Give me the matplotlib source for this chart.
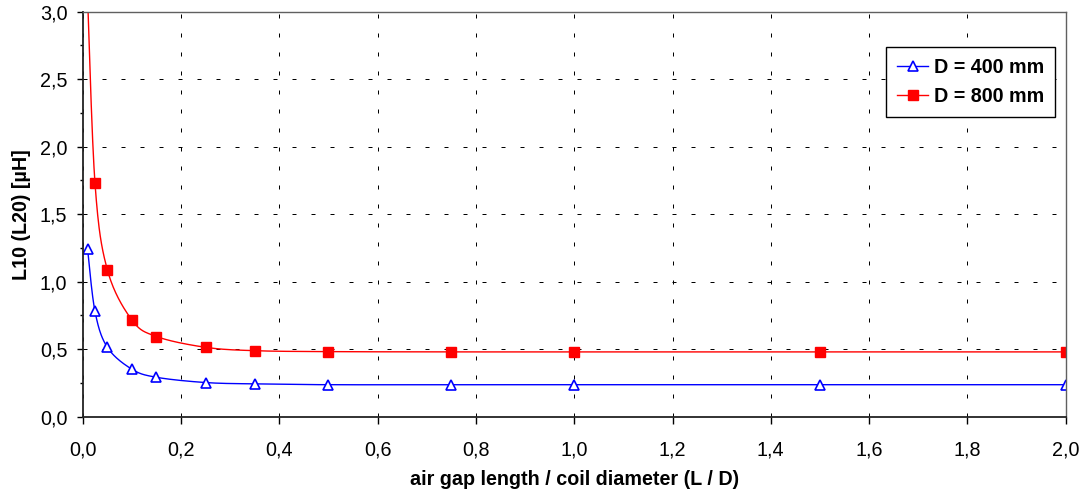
import numpy as np
from matplotlib import pyplot as plt
from matplotlib.ticker import FuncFormatter, MultipleLocator

# L/D ratio and measured inductance L10 (L20) in uH
ratio_400 = [0.01, 0.025, 0.05, 0.1, 0.15, 0.25, 0.35, 0.5, 0.75, 1.0, 1.5, 2.0]
l10_400 = [1.24, 0.78, 0.515, 0.352, 0.292, 0.253, 0.243, 0.237, 0.237, 0.237, 0.237, 0.237]

ratio_800 = [0.01, 0.025, 0.05, 0.1, 0.15, 0.25, 0.35, 0.5, 0.75, 1.0, 1.5, 2.0]
l10_800 = [3.1, 1.73, 1.09, 0.717, 0.594, 0.514, 0.489, 0.482, 0.48, 0.48, 0.48, 0.48]

labels = ["D = 400 mm", "D = 800 mm"]

plt.rcParams['font.family'] = ['Liberation Sans', 'DejaVu Sans']


def smooth(x, y, n=30):
    # Excel-like smoothed line (Catmull-Rom through the points)
    x = np.asarray(x, float)
    y = np.asarray(y, float)
    xs, ys = [], []
    for i in range(len(x) - 1):
        p0 = np.array([x[max(i - 1, 0)], y[max(i - 1, 0)]])
        p1 = np.array([x[i], y[i]])
        p2 = np.array([x[i + 1], y[i + 1]])
        p3 = np.array([x[min(i + 2, len(x) - 1)], y[min(i + 2, len(x) - 1)]])
        c1 = p1 + (p2 - p0) / 6
        c2 = p2 - (p3 - p1) / 6
        t = np.linspace(0, 1, n)[:, None]
        pts = ((1 - t) ** 3) * p1 + 3 * ((1 - t) ** 2) * t * c1 + 3 * (1 - t) * t ** 2 * c2 + t ** 3 * p2
        xs.extend(pts[:, 0])
        ys.extend(pts[:, 1])
    return xs, ys


fig = plt.figure(figsize=(10.85, 4.97), dpi=100)
ax = fig.add_axes([82.7 / 1085, 1 - 416.7 / 497, 983 / 1085, 405 / 497])

blue_style = dict(marker='^', ms=7, mfc='white', mec='#0000FF', mew=1.2)
red_style = dict(marker='s', ms=6.5, mfc='#FF0000', mec='#FF0000')

sx, sy = smooth(ratio_400, l10_400)
ax.plot(sx, sy, color='#0000FF', lw=1.0)
ax.plot(ratio_400, l10_400, ls='none', **blue_style)

sx, sy = smooth(ratio_800, l10_800)
ax.plot(sx, sy, color='#FF0000', lw=1.0)
ax.plot(ratio_800, l10_800, ls='none', **red_style)

# legend proxies
h1, = ax.plot([], [], color='#0000FF', lw=1.0, **blue_style)
h2, = ax.plot([], [], color='#FF0000', lw=1.0, **red_style)

ax.set_xlim(0, 2.0)
ax.set_ylim(0, 3.0)
ax.xaxis.set_major_locator(MultipleLocator(0.2))
ax.yaxis.set_major_locator(MultipleLocator(0.5))
ax.yaxis.set_minor_locator(MultipleLocator(0.25))
fmt = FuncFormatter(lambda v, p: f"{v:.1f}".replace('.', ','))
ax.xaxis.set_major_formatter(fmt)
ax.yaxis.set_major_formatter(fmt)

ax.grid(True, which='major', color='black', lw=0.72, ls=(0, (4, 15)))
ax.tick_params(axis='both', which='major', direction='out', width=1, labelsize=14.2, colors='black')
ax.tick_params(axis='y', which='major', length=4, pad=7)
ax.tick_params(axis='x', which='major', length=5, pad=12)
ax.tick_params(axis='y', which='minor', direction='out', length=2, width=1)

for side in ['left', 'bottom']:
    ax.spines[side].set_linewidth(1.3)
    ax.spines[side].set_color('#222222')
for side in ['top', 'right']:
    ax.spines[side].set_linewidth(1.0)
    ax.spines[side].set_color('#606060')

ax.set_xlabel("air gap length / coil diameter (L / D)", fontsize=14.2, fontweight='bold', labelpad=8)
ax.set_ylabel("L10 (L20) [µH]", fontsize=14.2, fontweight='bold', labelpad=6)

leg = ax.legend([h1, h2], labels, loc='upper right', bbox_to_anchor=(0.989, 0.912), borderaxespad=0,
                fancybox=False, edgecolor='black', framealpha=1, handlelength=1.55, handletextpad=0.3,
                borderpad=0.55, labelspacing=0.5, prop={'weight': 'bold', 'size': 14.2})
leg.get_frame().set_linewidth(1.0)

fig.savefig("out.png", dpi=100)
